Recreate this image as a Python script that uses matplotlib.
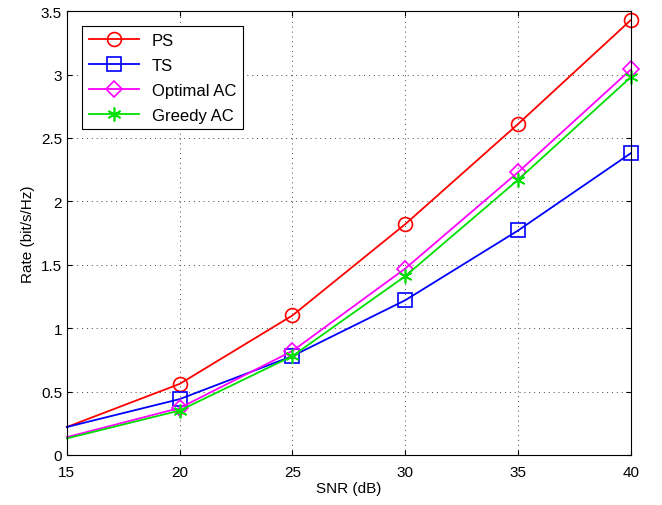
import matplotlib
matplotlib.use("Agg")
import matplotlib.pyplot as plt

plt.rcParams['font.family'] = ['Liberation Sans', 'DejaVu Sans']

snr = [15, 20, 25, 30, 35, 40]
rate_ps = [0.22, 0.56, 1.10, 1.82, 2.61, 3.43]
rate_ts = [0.22, 0.44, 0.78, 1.22, 1.77, 2.38]
rate_opt = [0.14, 0.37, 0.82, 1.47, 2.23, 3.04]
rate_greedy = [0.13, 0.35, 0.78, 1.41, 2.17, 2.98]

fig = plt.figure(figsize=(6.62, 5.06), dpi=100)
ax = fig.add_axes([0.101, 0.099, 0.852, 0.877])

mk = dict(markevery=slice(1, None), markerfacecolor='none', markersize=10,
          linewidth=1.3, markeredgewidth=1.2, clip_on=False)
ax.plot(snr, rate_ps, color='red', marker='o', label='PS', **mk)
ax.plot(snr, rate_ts, color='blue', marker='s', label='TS', **mk)
ax.plot(snr, rate_opt, color='magenta', marker='D', label='Optimal AC',
        **{**mk, 'markersize': 8})
ax.plot(snr, rate_greedy, color='#00e000', marker=(6, 2, 0), label='Greedy AC', **mk)

ax.set_xlim(15, 40)
ax.set_ylim(0, 3.5)
ax.set_xticks([15, 20, 25, 30, 35, 40])
ax.set_yticks([0, 0.5, 1, 1.5, 2, 2.5, 3, 3.5])
ax.set_yticklabels(['0', '0.5', '1', '1.5', '2', '2.5', '3', '3.5'])
ax.tick_params(direction='in', top=True, right=True, labelsize=11)
ax.tick_params(axis='x', pad=7)
ax.grid(True, linestyle=(0, (1, 4)), color='#444444', linewidth=0.7)
ax.set_xlabel('SNR (dB)', fontsize=11, labelpad=2)
ax.set_ylabel('Rate (bit/s/Hz)', fontsize=11)

leg = ax.legend(loc='upper left', fontsize=12, fancybox=False, edgecolor='black',
                framealpha=1, handlelength=3, borderaxespad=0.9, labelspacing=0.6)
leg.get_frame().set_linewidth(0.8)

fig.savefig('out.png', dpi=100)
